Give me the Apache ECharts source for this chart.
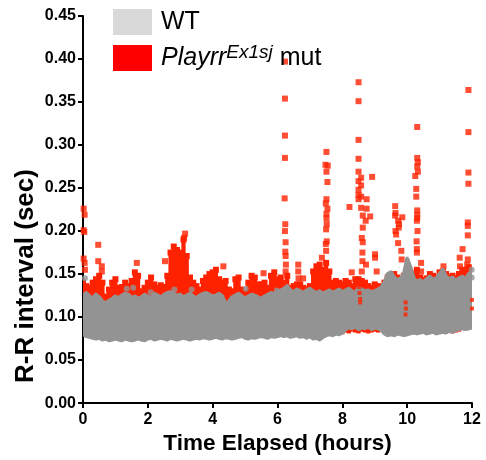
<!DOCTYPE html>
<html>
<head>
<meta charset="utf-8">
<script src="https://cdn.jsdelivr.net/npm/echarts@6/dist/echarts.min.js"></script>
<style>html,body{margin:0;padding:0;background:#fff}#c{width:486px;height:460px}</style>
</head>
<body>
<div id="c"></div>
<script>
// ---- data (sec), envelopes per 0.1-hour bin from 0.0 to 12.0 h ----
var xTicks = [0, 2, 4, 6, 8, 10, 12];
var yTicks = [0, 0.05, 0.10, 0.15, 0.20, 0.25, 0.30, 0.35, 0.40, 0.45];

var wtHigh = [
0.125,0.128,0.124,0.122,0.126,0.123,0.118,0.116,0.119,0.121,
0.124,0.122,0.125,0.127,0.126,0.122,0.124,0.121,0.123,0.126,
0.124,0.122,0.127,0.125,0.123,0.126,0.128,0.129,0.127,0.125,
0.126,0.123,0.125,0.127,0.124,0.122,0.125,0.127,0.128,0.126,
0.124,0.125,0.127,0.124,0.115,0.118,0.123,0.125,0.127,0.124,
0.122,0.124,0.126,0.125,0.123,0.121,0.124,0.126,0.128,0.127,
0.129,0.131,0.133,0.136,0.131,0.129,0.132,0.130,0.128,0.131,
0.133,0.130,0.128,0.130,0.127,0.129,0.131,0.128,0.130,0.132,
0.129,0.131,0.133,0.130,0.128,0.134,0.132,0.130,0.131,0.129,
0.130,0.132,0.134,0.140,0.150,0.152,0.146,0.143,0.145,0.150,
0.168,0.158,0.145,0.141,0.143,0.140,0.144,0.147,0.143,0.145,
0.150,0.155,0.147,0.144,0.146,0.142,0.145,0.147,0.144,0.150,
0.152];
var wtLow = [
0.080,0.078,0.077,0.076,0.075,0.076,0.074,0.075,0.073,0.074,
0.075,0.074,0.073,0.075,0.074,0.073,0.074,0.075,0.074,0.073,
0.075,0.076,0.074,0.075,0.076,0.075,0.074,0.076,0.075,0.074,
0.075,0.076,0.075,0.074,0.075,0.076,0.075,0.077,0.076,0.075,
0.076,0.077,0.076,0.075,0.077,0.076,0.075,0.076,0.077,0.078,
0.076,0.075,0.077,0.076,0.077,0.078,0.077,0.076,0.078,0.077,
0.078,0.079,0.078,0.079,0.077,0.078,0.079,0.077,0.078,0.076,
0.078,0.075,0.076,0.074,0.077,0.079,0.080,0.079,0.081,0.080,
0.082,0.086,0.088,0.087,0.089,0.086,0.088,0.087,0.089,0.086,
0.088,0.087,0.085,0.081,0.079,0.080,0.079,0.081,0.080,0.079,
0.080,0.081,0.082,0.081,0.082,0.083,0.081,0.082,0.083,0.081,
0.082,0.083,0.082,0.084,0.083,0.085,0.086,0.087,0.086,0.087,
0.088];
var mutHigh = [
0.140,0.136,0.134,0.140,0.144,0.148,0.140,0.124,0.132,0.140,
0.144,0.134,0.135,0.140,0.136,0.142,0.152,0.148,0.130,0.134,
0.140,0.146,0.138,0.134,0.137,0.135,0.148,0.175,0.182,0.178,
0.175,0.190,0.171,0.146,0.140,0.136,0.132,0.142,0.146,0.150,
0.152,0.155,0.144,0.140,0.142,0.132,0.130,0.144,0.146,0.132,
0.128,0.140,0.148,0.146,0.138,0.138,0.140,0.134,0.148,0.152,
0.144,0.146,0.140,0.148,0.134,0.136,0.138,0.138,0.134,0.132,
0.136,0.153,0.159,0.161,0.155,0.163,0.153,0.140,0.142,0.140,
0.138,0.142,0.140,0.136,0.144,0.144,0.142,0.140,0.136,0.134,
0.138,0.136,0.134,0.140,0.146,0.148,0.150,0.146,0.144,0.148,
0.150,0.152,0.150,0.155,0.146,0.143,0.145,0.150,0.148,0.146,
0.152,0.153,0.150,0.146,0.148,0.145,0.150,0.155,0.152,0.158,
0.155];
var mutLow = [
0.090,0.090,0.090,0.090,0.090,0.090,0.090,0.090,0.090,0.090,
0.090,0.090,0.090,0.090,0.090,0.090,0.090,0.090,0.090,0.090,
0.090,0.090,0.090,0.090,0.090,0.090,0.090,0.090,0.090,0.090,
0.090,0.090,0.090,0.090,0.090,0.090,0.090,0.090,0.090,0.090,
0.090,0.090,0.090,0.090,0.090,0.090,0.090,0.090,0.090,0.090,
0.090,0.090,0.090,0.090,0.090,0.090,0.090,0.090,0.090,0.090,
0.090,0.090,0.090,0.090,0.090,0.090,0.090,0.090,0.090,0.090,
0.090,0.090,0.090,0.090,0.090,0.090,0.090,0.090,0.090,0.081,
0.080,0.082,0.081,0.083,0.082,0.081,0.083,0.082,0.081,0.082,
0.083,0.082,0.084,0.090,0.090,0.090,0.090,0.090,0.090,0.090,
0.090,0.090,0.090,0.090,0.090,0.090,0.090,0.090,0.090,0.090,
0.090,0.090,0.090,0.082,0.081,0.082,0.083,0.090,0.090,0.090,
0.090];

// isolated mutant beats [hours, sec]
var mutPoints = [
[0.02,0.226],[0.05,0.219],[0.02,0.201],[0.04,0.199],[0.02,0.168],[0.05,0.163],[0.06,0.155],
[0.47,0.184],[0.47,0.165],[0.58,0.159],[0.58,0.153],[1.66,0.163],[2.53,0.165],
[3.15,0.197],[3.12,0.192],[4.33,0.159],[5.57,0.151],
[6.23,0.397],[6.23,0.354],[6.23,0.311],[6.23,0.285],[6.22,0.238],[6.24,0.208],[6.23,0.200],
[6.25,0.187],[6.24,0.176],[6.25,0.171],[6.26,0.161],[6.25,0.153],
[6.64,0.161],[6.64,0.153],[6.65,0.145],[6.79,0.145],
[7.51,0.292],[7.48,0.277],[7.55,0.276],[7.51,0.269],[7.54,0.257],[7.51,0.237],[7.49,0.232],
[7.54,0.226],[7.51,0.220],[7.51,0.215],[7.52,0.208],[7.50,0.202],[7.52,0.188],[7.49,0.185],
[7.50,0.177],[7.37,0.169],
[8.22,0.228],[8.29,0.152],
[8.50,0.373],[8.50,0.351],[8.50,0.306],[8.50,0.284],[8.50,0.269],[8.58,0.262],[8.50,0.258],
[8.58,0.253],[8.50,0.248],[8.50,0.242],[8.58,0.240],[8.50,0.237],[8.58,0.227],[8.75,0.237],
[8.75,0.226],[8.86,0.217],[8.63,0.218],[8.72,0.212],[8.63,0.204],[8.60,0.192],[8.63,0.187],
[8.62,0.175],[8.62,0.165],[8.73,0.161],[8.60,0.153],[8.92,0.263],[9.01,0.173],[9.01,0.169],
[9.06,0.153],
[9.63,0.229],[9.64,0.221],[9.63,0.218],[9.72,0.212],[9.75,0.208],[9.74,0.204],[9.64,0.200],
[9.66,0.196],[9.72,0.186],[9.82,0.177],[9.83,0.167],[9.85,0.216],
[10.31,0.321],[10.31,0.285],[10.33,0.280],[10.31,0.275],[10.33,0.269],[10.25,0.264],
[10.28,0.249],[10.28,0.240],[10.31,0.224],[10.31,0.219],[10.31,0.215],[10.30,0.212],
[10.32,0.200],[10.29,0.188],[10.30,0.179],[10.30,0.175],[10.43,0.163],[10.43,0.153],
[11.12,0.159],
[11.89,0.364],[11.89,0.315],[11.89,0.268],[11.89,0.255],[11.87,0.210],[11.87,0.206],
[11.87,0.195],[11.71,0.179],[11.62,0.169],[11.87,0.167],[11.85,0.161],[11.86,0.155],
[11.63,0.159],[11.60,0.150]
];
// mutant beats visible inside the WT cloud
var mutInner = [
[8.52,0.135],[8.53,0.128],[8.55,0.121],[8.55,0.117],[9.95,0.117],[9.96,0.110],[9.95,0.103],
[12.0,0.120],[12.0,0.110],[12.01,0.100]
];
// isolated WT beats
var wtPoints = [
[0.06,0.145],[1.35,0.133],[1.55,0.134],[2.09,0.129],[2.82,0.132],[3.35,0.132],
[5.02,0.133],[5.98,0.131],[11.99,0.155],[11.99,0.146]
];

var binWidth = 0.1;
function binTime(i) { return Math.round(i * binWidth * 10) / 10; }
function bins(lo, hi) {
  var out = [];
  for (var i = 0; i < lo.length; i++) out.push([binTime(i), lo[i], hi[i]]);
  return out;
}

var GRAY = '#939393', RED = '#ff2200';
var FONT = '"Liberation Sans", Arial, sans-serif';

// WT: one filled envelope polygon, built from the bin arrays via the axes
function polygonRenderer(lo, hi, color) {
  return function (params, api) {
    if (params.dataIndex !== 0) return null;
    var pts = [], i;
    for (i = 0; i < hi.length; i++) pts.push(api.coord([binTime(i), hi[i]]));
    for (i = lo.length - 1; i >= 0; i--) pts.push(api.coord([binTime(i), lo[i]]));
    return {
      type: 'polygon',
      shape: { points: pts },
      style: { fill: color, stroke: color, lineWidth: 4, lineJoin: 'round' }
    };
  };
}
// mutant: one column of beats per bin, capped with a square marker
function columnRenderer(color) {
  return function (params, api) {
    var t = api.value(0), lo = api.value(1), hi = api.value(2);
    var p1 = api.coord([t - binWidth * 0.5, hi]);
    var p2 = api.coord([t + binWidth * 0.5, lo]);
    var cx = (p1[0] + p2[0]) / 2;
    return {
      type: 'group',
      children: [
        { type: 'rect', shape: { x: p1[0] - 0.5, y: p1[1], width: p2[0] - p1[0] + 1, height: p2[1] - p1[1] }, style: { fill: color } },
        { type: 'rect', shape: { x: cx - 3, y: p1[1] - 3, width: 6, height: 6 }, style: { fill: color } }
      ]
    };
  };
}

var chart = echarts.init(document.getElementById('c'), null, { renderer: 'canvas' });
chart.setOption({
  animation: false,
  backgroundColor: '#fff',
  grid: { left: 83, right: 14, top: 16, bottom: 56, containLabel: false },
  legend: {
    orient: 'vertical', left: 113, top: 9, padding: 0, itemWidth: 39, itemHeight: 26, itemGap: 8,
    icon: 'rect', selectedMode: false,
    data: [
      { name: 'WT', itemStyle: { color: '#d9d9d9' } },
      { name: 'Playrr mut', itemStyle: { color: '#ff0000' } }
    ],
    formatter: function (name) {
      return name === 'WT' ? '{n|WT}' : '{i|Playrr}{s|Ex1sj}{n| mut}';
    },
    textStyle: {
      color: '#000', fontFamily: FONT, fontSize: 25, padding: [0, 0, 0, 4],
      rich: {
        n: { fontSize: 25, fontFamily: FONT, color: '#000', lineHeight: 30 },
        i: { fontSize: 25, fontFamily: FONT, fontStyle: 'italic', color: '#000', lineHeight: 30 },
        s: { fontSize: 19, fontFamily: FONT, fontStyle: 'italic', color: '#000', verticalAlign: 'top', lineHeight: 30, padding: [0, 0, 8, 0] }
      }
    }
  },
  xAxis: {
    type: 'value', min: xTicks[0], max: xTicks[xTicks.length - 1], interval: 2,
    name: 'Time Elapsed (hours)', nameLocation: 'middle', nameGap: 25,
    nameTextStyle: { color: '#000', fontFamily: FONT, fontWeight: 'bold', fontSize: 22.5 },
    axisLine: { lineStyle: { color: '#000', width: 2 } },
    axisTick: { show: true, length: 5, lineStyle: { color: '#000', width: 2 } },
    axisLabel: { color: '#000', fontFamily: FONT, fontWeight: 'bold', fontSize: 16, margin: 8 },
    splitLine: { show: false }
  },
  yAxis: {
    type: 'value', min: yTicks[0], max: yTicks[yTicks.length - 1], interval: 0.05,
    axisLine: { show: true, lineStyle: { color: '#000', width: 2 } },
    axisTick: { show: true, length: 5, lineStyle: { color: '#000', width: 2 } },
    axisLabel: {
      color: '#000', fontFamily: FONT, fontWeight: 'bold', fontSize: 16, margin: 7,
      formatter: function (v) { return v.toFixed(2); }
    },
    splitLine: { show: false }
  },
  graphic: [{
    type: 'text', x: 26, y: 276, rotation: Math.PI / 2,
    style: {
      text: 'R-R interval (sec)', font: 'bold 26px ' + FONT, fill: '#000',
      align: 'center', verticalAlign: 'middle', textAlign: 'center', textVerticalAlign: 'middle'
    }
  }],
  series: [
    {
      name: 'Playrr mut', type: 'custom', z: 1, clip: true,
      renderItem: columnRenderer(RED),
      encode: { x: 0, y: [1, 2] },
      itemStyle: { color: RED },
      data: bins(mutLow, mutHigh)
    },
    {
      name: 'Playrr mut', type: 'scatter', z: 2, symbol: 'rect', symbolSize: 6,
      itemStyle: { color: RED }, data: mutPoints
    },
    {
      name: 'WT', type: 'custom', z: 3, clip: true,
      renderItem: polygonRenderer(wtLow, wtHigh, GRAY),
      encode: { x: 0, y: [1, 2] },
      itemStyle: { color: GRAY },
      data: bins(wtLow, wtHigh)
    },
    {
      name: 'WT', type: 'scatter', z: 4, symbol: 'circle', symbolSize: 6,
      itemStyle: { color: GRAY }, data: wtPoints
    },
    {
      name: 'Playrr mut', type: 'scatter', z: 5, symbol: 'rect', symbolSize: 4,
      itemStyle: { color: RED }, data: mutInner
    }
  ]
});
</script>
</body>
</html>
